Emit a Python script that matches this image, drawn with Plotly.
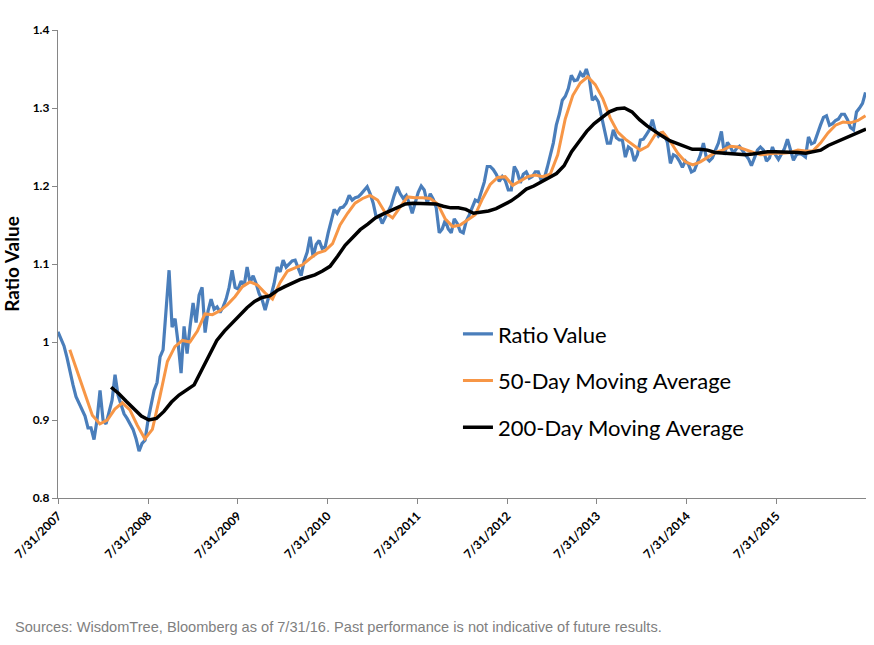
import pandas as pd
import plotly.graph_objects as go

# Ratio value, sampled at regular intervals from 7/31/2007 to 7/2016
ratio_values = [
    1.013, 1.005, 0.995, 0.980, 0.960, 0.945, 0.930, 0.922, 0.913, 0.905,
    0.890, 0.890, 0.875, 0.900, 0.938, 0.900, 0.895, 0.912, 0.925, 0.958,
    0.932, 0.920, 0.908, 0.902, 0.895, 0.888, 0.876, 0.860, 0.870, 0.874,
    0.900, 0.920, 0.938, 0.948, 0.981, 0.990, 1.045, 1.092, 1.019, 1.030,
    0.999, 0.960, 1.020, 0.985, 1.020, 1.050, 1.025, 1.060, 1.070, 1.012,
    1.040, 1.055, 1.042, 1.045, 1.038, 1.045, 1.055, 1.070, 1.092, 1.070,
    1.068, 1.078, 1.072, 1.096, 1.076, 1.085, 1.075, 1.062, 1.054, 1.041,
    1.055, 1.060, 1.075, 1.096, 1.090, 1.105, 1.096, 1.100, 1.104, 1.105,
    1.095, 1.085, 1.104, 1.115, 1.135, 1.109, 1.125, 1.130, 1.120, 1.122,
    1.140, 1.155, 1.170, 1.165, 1.172, 1.173, 1.178, 1.188, 1.182, 1.185,
    1.186, 1.190, 1.194, 1.199, 1.190, 1.178, 1.160, 1.162, 1.152, 1.160,
    1.169, 1.175, 1.188, 1.199, 1.190, 1.184, 1.188, 1.178, 1.165, 1.180,
    1.192, 1.200, 1.195, 1.178, 1.190, 1.183, 1.172, 1.140, 1.145, 1.156,
    1.145, 1.140, 1.158, 1.152, 1.142, 1.140, 1.155, 1.163, 1.172, 1.182,
    1.180, 1.192, 1.205, 1.225, 1.225, 1.221, 1.215, 1.206, 1.212, 1.207,
    1.195, 1.195, 1.225, 1.218, 1.204, 1.215, 1.218, 1.210, 1.212, 1.218,
    1.218, 1.207, 1.210, 1.224, 1.240, 1.255, 1.278, 1.292, 1.310, 1.315,
    1.325, 1.342, 1.335, 1.336, 1.345, 1.340, 1.350, 1.337, 1.310, 1.314,
    1.308, 1.290, 1.272, 1.255, 1.255, 1.272, 1.262, 1.259, 1.259, 1.237,
    1.250, 1.247, 1.232, 1.240, 1.259, 1.260, 1.266, 1.272, 1.285, 1.270,
    1.264, 1.268, 1.266, 1.256, 1.229, 1.240, 1.238, 1.232, 1.224, 1.232,
    1.228, 1.218, 1.220, 1.229, 1.240, 1.255, 1.236, 1.232, 1.236, 1.246,
    1.255, 1.270, 1.240, 1.256, 1.250, 1.242, 1.248, 1.251, 1.246, 1.240,
    1.235, 1.226, 1.236, 1.246, 1.250, 1.246, 1.232, 1.236, 1.250, 1.240,
    1.234, 1.242, 1.248, 1.260, 1.245, 1.233, 1.240, 1.242, 1.240, 1.237,
    1.263, 1.254, 1.256, 1.268, 1.278, 1.288, 1.290, 1.278, 1.280, 1.284,
    1.286, 1.292, 1.292, 1.285, 1.275, 1.272, 1.295, 1.300, 1.306, 1.320,
]

# 50-day moving average, sampled regularly from mid-Sep 2007
ma50_values = [
    0.990, 0.962, 0.933, 0.906, 0.895, 0.900, 0.914, 0.922, 0.913, 0.893,
    0.876, 0.888, 0.930, 0.975, 0.994, 1.002, 1.000, 1.014, 1.036, 1.035,
    1.040, 1.048, 1.058, 1.071, 1.077, 1.073, 1.063, 1.055, 1.076, 1.091,
    1.095, 1.099, 1.107, 1.114, 1.117, 1.126, 1.150, 1.165, 1.178, 1.184,
    1.188, 1.182, 1.166, 1.159, 1.173, 1.186, 1.185, 1.185, 1.184, 1.177,
    1.158, 1.148, 1.150, 1.156, 1.163, 1.184, 1.202, 1.211, 1.212, 1.201,
    1.206, 1.212, 1.214, 1.212, 1.215, 1.240, 1.286, 1.316, 1.332, 1.340,
    1.330, 1.312, 1.287, 1.269, 1.260, 1.253, 1.246, 1.251, 1.266, 1.269,
    1.257, 1.242, 1.231, 1.227, 1.231, 1.237, 1.243, 1.246, 1.251, 1.250,
    1.247, 1.243, 1.240, 1.241, 1.242, 1.242, 1.243, 1.246, 1.245, 1.245,
    1.255, 1.268, 1.278, 1.282, 1.281, 1.284, 1.290,
]

# 200-day moving average, sampled regularly from early Mar 2008
ma200_values = [
    0.942, 0.934, 0.924, 0.915, 0.905, 0.900, 0.902, 0.911, 0.923, 0.932,
    0.938, 0.945, 0.964, 0.984, 1.002, 1.014, 1.024, 1.034, 1.044, 1.052,
    1.057, 1.059, 1.066, 1.071, 1.076, 1.080, 1.083, 1.086, 1.091, 1.097,
    1.110, 1.124, 1.134, 1.144, 1.151, 1.159, 1.164, 1.168, 1.173, 1.177,
    1.178, 1.178, 1.178, 1.177, 1.174, 1.172, 1.172, 1.170, 1.165, 1.166,
    1.168, 1.171, 1.176, 1.181, 1.188, 1.196, 1.200, 1.205, 1.210, 1.216,
    1.226, 1.244, 1.257, 1.270, 1.280, 1.288, 1.295, 1.299, 1.300, 1.295,
    1.285, 1.277, 1.270, 1.264, 1.258, 1.254, 1.250, 1.247, 1.247, 1.246,
    1.243, 1.242, 1.241, 1.240, 1.240, 1.241, 1.243, 1.244, 1.244, 1.244,
    1.244, 1.243, 1.242, 1.244, 1.246, 1.252, 1.256, 1.261, 1.265, 1.269,
    1.273,
]

tick_dates = ["2007-07-31", "2008-07-31", "2009-07-31", "2010-07-31", "2011-07-31",
              "2012-07-31", "2013-07-31", "2014-07-31", "2015-07-31"]
tick_labels = ["7/31/2007", "7/31/2008", "7/31/2009", "7/31/2010", "7/31/2011",
               "7/31/2012", "7/31/2013", "7/31/2014", "7/31/2015"]
y_tick_vals = [0.8, 0.9, 1.0, 1.1, 1.2, 1.3, 1.4]
y_tick_labels = ["0.8", "0.9", "1", "1.1", "1.2", "1.3", "1.4"]

ratio_dates = pd.date_range("2007-07-31", "2016-07-27", periods=len(ratio_values))
ma50_dates = pd.date_range("2007-09-17", "2016-07-27", periods=len(ma50_values))
ma200_dates = pd.date_range("2008-03-03", "2016-07-29", periods=len(ma200_values))

fig = go.Figure()
fig.add_trace(go.Scatter(x=ratio_dates, y=ratio_values, mode="lines", name="Ratio Value",
                         line=dict(color="#4a7ebb", width=3.2), legendgroup="a"))
fig.add_trace(go.Scatter(x=ma50_dates, y=ma50_values, mode="lines", name="50-Day Moving Average",
                         line=dict(color="#f79646", width=3), legendgroup="b"))
fig.add_trace(go.Scatter(x=ma200_dates, y=ma200_values, mode="lines", name="200-Day Moving Average",
                         line=dict(color="#000000", width=3.5), legendgroup="c"))

FONT = "Lato, Carlito, Arial"

fig.update_layout(
    width=874, height=645,
    margin=dict(l=58, r=8, t=30, b=147),
    paper_bgcolor="white", plot_bgcolor="white",
    showlegend=True,
    legend=dict(x=0.495, y=0.395, xanchor="left", yanchor="top",
                font=dict(family=FONT, size=22, color="#000000"),
                bgcolor="rgba(0,0,0,0)", tracegroupgap=15, itemwidth=30),
    xaxis=dict(
        type="date",
        range=["2007-07-31", "2016-07-29"],
        tickvals=tick_dates, ticktext=tick_labels, tickangle=-45,
        tickfont=dict(family=FONT, size=12, color="#000000", weight="bold"),
        showgrid=False, zeroline=False,
        showline=True, linecolor="#868686", linewidth=1.3,
        ticks="outside", ticklen=5, tickcolor="#868686",
    ),
    yaxis=dict(
        range=[0.8, 1.4],
        tickvals=y_tick_vals, ticktext=y_tick_labels,
        tickfont=dict(family=FONT, size=12, color="#000000", weight="bold"),
        showgrid=False, zeroline=False,
        showline=True, linecolor="#868686", linewidth=1.3,
        ticks="outside", ticklen=5, tickcolor="#868686",
        title=dict(text="<b>Ratio Value</b>", standoff=10,
                   font=dict(family=FONT, size=19, color="#000000")),
    ),
    annotations=[dict(
        text="Sources: WisdomTree, Bloomberg as of 7/31/16. Past performance is not indicative of future results.",
        xref="paper", yref="paper", x=-0.0557, y=-0.2756, xanchor="left", yanchor="middle",
        showarrow=False,
        font=dict(family="Liberation Sans, Arial", size=14.6, color="#7f7f7f"),
    )],
)

fig.write_html("out.html")
